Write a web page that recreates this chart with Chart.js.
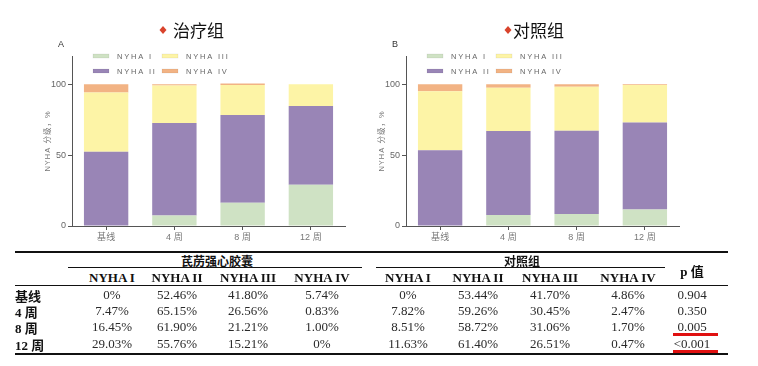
<!DOCTYPE html>
<html>
<head>
<meta charset="utf-8">
<script src="https://cdn.jsdelivr.net/npm/chart.js@4"></script>
<style>
  body { margin: 0; background: #fff; width: 758px; height: 366px; overflow: hidden; position: relative; }
  canvas { position: absolute; top: 0; }
  #chartA { left: 0; }
  #chartB { left: 334px; }
  .t { position: absolute; white-space: nowrap; transform: translate(-50%, -50%);
       font-family: "Liberation Serif", "Noto Sans CJK SC", serif; font-size: 13px; color: #2a2a2a; }
  .l { transform: translate(0, -50%); }
  .b { font-weight: bold; color: #111; }
  .cjk { font-family: "Noto Sans CJK SC", sans-serif; font-size: 12px; }
  .rule { position: absolute; background: #111; }
</style>
</head>
<body>
<canvas id="chartA" width="360" height="250"></canvas>
<canvas id="chartB" width="360" height="250"></canvas>
<div id="table"></div>
<script>
const categories = ["基线", "4 周", "8 周", "12 周"];
const levels = ["NYHA I", "NYHA II", "NYHA III", "NYHA IV"];
const yTicks = [0, 50, 100];

// 芪苈强心胶囊 (治疗组), % per NYHA class
const treatI = [0, 7.47, 16.45, 29.03];
const treatII = [52.46, 65.15, 61.90, 55.76];
const treatIII = [41.80, 26.56, 21.21, 15.21];
const treatIV = [5.74, 0.83, 1.00, 0];

// 对照组
const ctrlI = [0, 7.82, 8.51, 11.63];
const ctrlII = [53.44, 59.26, 58.72, 61.40];
const ctrlIII = [41.70, 30.45, 31.06, 26.51];
const ctrlIV = [4.86, 2.47, 1.70, 0.47];

const pValues = ["0.904", "0.350", "0.005", "<0.001"];
const underlinedP = ["0.005", "<0.001"];

const colors = ["#cfe2c4", "#9985b6", "#fdf4a6", "#f2b384"];

Chart.defaults.font.family = "'Liberation Sans', Arial, sans-serif";

function makeDatasets(series) {
  return series.map((data, i) => ({
    label: levels[i],
    data,
    backgroundColor: colors[i],
    borderWidth: 0,
    barPercentage: 0.65,
    categoryPercentage: 1,
  }));
}

const decor = {
  id: "decor",
  afterDraw(chart, args, opts) {
    const ctx = chart.ctx;
    const left = chart.chartArea.left;
    ctx.save();
    // title with red diamond
    const dx = opts.diamondX, dy = 30;
    ctx.fillStyle = "#d9432c";
    ctx.beginPath();
    ctx.moveTo(dx, dy - 4);
    ctx.lineTo(dx + 3.5, dy);
    ctx.lineTo(dx, dy + 4);
    ctx.lineTo(dx - 3.5, dy);
    ctx.closePath();
    ctx.fill();
    ctx.fillStyle = "#111";
    ctx.font = "17px 'Noto Sans CJK SC'";
    ctx.textBaseline = "middle";
    ctx.textAlign = "left";
    ctx.fillText(opts.title, opts.textX, 31);

    // panel letter
    ctx.font = "9px 'Liberation Sans'";
    ctx.fillStyle = "#333";
    ctx.fillText(opts.letter, 58, 45);

    // y axis title
    ctx.save();
    ctx.translate(48, 141);
    ctx.rotate(-Math.PI / 2);
    ctx.textAlign = "center";
    ctx.font = "7.5px 'Liberation Sans', 'Noto Sans CJK SC'";
    ctx.letterSpacing = "1px";
    ctx.fillStyle = "#777";
    ctx.fillText("NYHA 分级，%", 0, 0);
    ctx.restore();

    // legend, column-wise: I, III / II, IV
    const order = [0, 2, 1, 3];
    ctx.font = "7.5px 'Liberation Sans'";
    ctx.letterSpacing = "1.8px";
    order.forEach((di, i) => {
      const ds = chart.data.datasets[di];
      const col = i % 2, row = Math.floor(i / 2);
      const sx = left + 21 + col * 69;
      const sy = 56 + row * 15;
      ctx.fillStyle = ds.backgroundColor;
      ctx.fillRect(sx, sy - 2, 16, 4);
      ctx.strokeStyle = "rgba(0,0,0,0.12)";
      ctx.lineWidth = 0.5;
      ctx.strokeRect(sx, sy - 2, 16, 4);
      ctx.fillStyle = "#666";
      ctx.fillText(ds.label, sx + 24, sy + 0.5);
    });
    ctx.restore();
  },
};

function makeChart(id, series, decorOpts) {
  return new Chart(document.getElementById(id), {
    type: "bar",
    data: { labels: categories, datasets: makeDatasets(series) },
    plugins: [decor],
    options: {
      responsive: false,
      animation: false,
      layout: { padding: { left: 0, right: 15, top: 56, bottom: 0 } },
      plugins: { legend: { display: false }, tooltip: { enabled: false }, decor: decorOpts },
      scales: {
        x: {
          stacked: true,
          grid: { display: true, drawOnChartArea: false, offset: false, tickLength: 4, color: "#555" },
          border: { color: "#555", width: 1 },
          ticks: { color: "#777", font: { size: 9, family: "'Liberation Sans', 'Noto Sans CJK SC'" }, padding: 2 },
          afterFit: (s) => { s.height = 24; },
        },
        y: {
          stacked: true,
          min: 0,
          max: 120,
          afterBuildTicks: (s) => { s.ticks = yTicks.map((v) => ({ value: v })); },
          grid: { drawOnChartArea: false, tickLength: 4, color: "#555" },
          border: { color: "#555", width: 1 },
          ticks: { color: "#666", font: { size: 9 }, padding: 2 },
          afterFit: (s) => { s.width = 72; },
        },
      },
    },
  });
}

makeChart("chartA", [treatI, treatII, treatIII, treatIV], { title: "治疗组", letter: "A", diamondX: 163, textX: 173 });
makeChart("chartB", [ctrlI, ctrlII, ctrlIII, ctrlIV], { title: "对照组", letter: "B", diamondX: 174, textX: 179 });

// ---- table ----
const table = document.getElementById("table");
const leftCols = [112, 177, 248, 322];
const rightCols = [408, 478, 550, 628];
const pCol = 692;
const rowY = [295, 311, 327, 344];

function addText(text, x, y, cls) {
  const d = document.createElement("div");
  d.className = "t " + (cls || "");
  d.textContent = text;
  d.style.left = x + "px";
  d.style.top = y + "px";
  table.appendChild(d);
}

function addRule(x1, x2, y, h, color) {
  const d = document.createElement("div");
  d.className = "rule";
  d.style.left = x1 + "px";
  d.style.width = (x2 - x1) + "px";
  d.style.top = y + "px";
  d.style.height = (h || 1) + "px";
  if (color) d.style.background = color;
  table.appendChild(d);
}

const fmt = (v) => (v === 0 ? "0%" : v.toFixed(2) + "%");

addRule(15, 728, 251, 1.5);
addText("芪苈强心胶囊", 217, 260, "b cjk");
addText("对照组", 522, 260, "b cjk");
addRule(68, 362, 267, 1);
addRule(376, 665, 267, 1);
addText("p 值", pCol, 270, "b");
levels.forEach((lv, i) => {
  addText(lv, leftCols[i], 278, "b");
  addText(lv, rightCols[i], 278, "b");
});
addRule(15, 728, 285, 1);

const treat = [treatI, treatII, treatIII, treatIV];
const ctrl = [ctrlI, ctrlII, ctrlIII, ctrlIV];
categories.forEach((c, r) => {
  addText(c, 15, rowY[r], "b l");
  treat.forEach((s, i) => addText(fmt(s[r]), leftCols[i], rowY[r]));
  ctrl.forEach((s, i) => addText(fmt(s[r]), rightCols[i], rowY[r]));
  addText(pValues[r], pCol, rowY[r]);
  if (underlinedP.includes(pValues[r])) addRule(673, 718, rowY[r] + 6, 3, "#e01010");
});
addRule(15, 728, 353, 1.5);
</script>
</body>
</html>
